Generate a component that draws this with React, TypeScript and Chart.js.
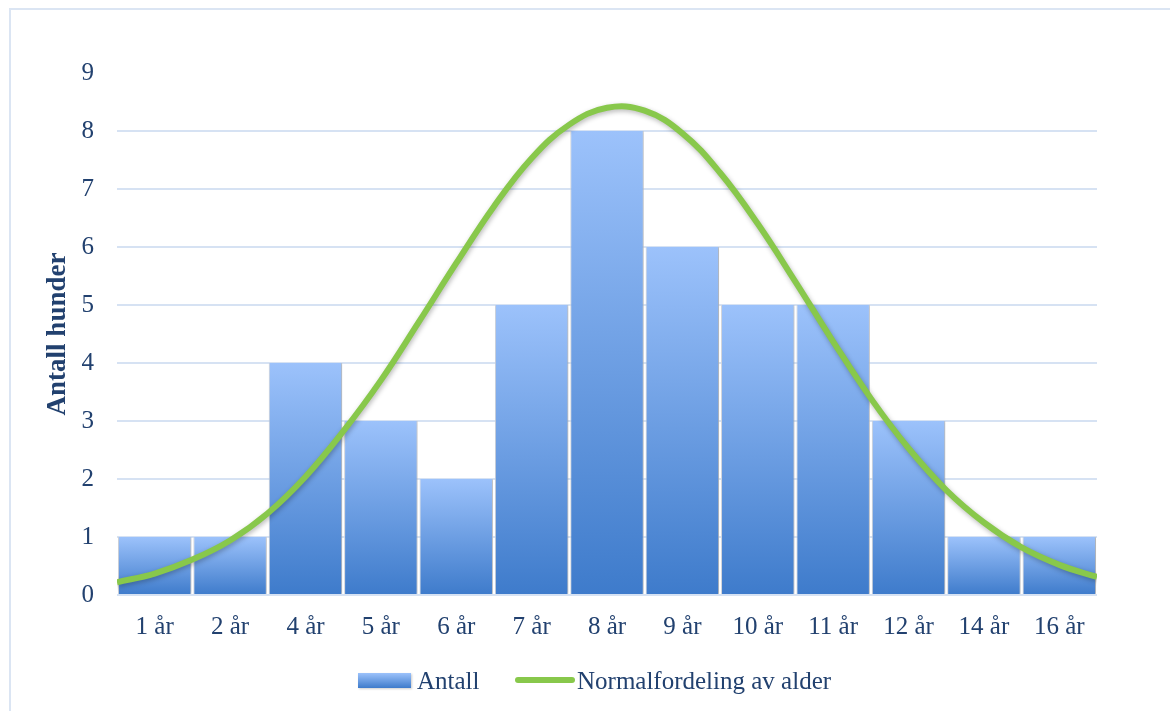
import React, { useEffect, useRef } from "react";
import { Chart, registerables } from "chart.js";

Chart.register(...registerables);

// Age groups and how many dogs fall in each
const categories = ["1 år", "2 år", "4 år", "5 år", "6 år", "7 år", "8 år", "9 år", "10 år", "11 år", "12 år", "14 år", "16 år"];
const antall = [1, 1, 4, 3, 2, 5, 8, 6, 5, 5, 3, 1, 1];

// Y axis ticks
const yTicks = [0, 1, 2, 3, 4, 5, 6, 7, 8, 9];

// Normal curve, read at every half category across the whole axis (0 = left edge, 13 = right edge)
const curvePositions = [0, 0.5, 1, 1.5, 2, 2.5, 3, 3.5, 4, 4.5, 5, 5.5, 6, 6.5, 7, 7.5, 8, 8.5, 9, 9.5, 10, 10.5, 11, 11.5, 12, 12.5, 13];
const curveValues = [0.22, 0.37, 0.61, 0.94, 1.41, 2.04, 2.82, 3.7, 4.7, 5.72, 6.7, 7.53, 8.11, 8.4, 8.35, 7.96, 7.28, 6.4, 5.4, 4.37, 3.39, 2.53, 1.81, 1.25, 0.82, 0.52, 0.31];

const TEXT = "#22416f";
const GRID = "#d6e2f3";
const GREEN = "#88c84b";
const BAR_TOP = "#9cc2fb";
const BAR_BOTTOM = "#3e7bcb";
const FONT = "'Liberation Serif', 'Times New Roman', serif";

const softShadow = {
  id: "softShadow",
  beforeDatasetDraw(chart: any, args: any) {
    const ctx = chart.ctx;
    ctx.save();
    if (args.meta.type === "line") {
      ctx.shadowColor = "rgba(0,0,0,0.28)";
      ctx.shadowBlur = 5;
      ctx.shadowOffsetX = 1;
      ctx.shadowOffsetY = 2;
    } else {
      ctx.shadowColor = "rgba(0,0,0,0.2)";
      ctx.shadowBlur = 3;
      ctx.shadowOffsetX = 1.5;
      ctx.shadowOffsetY = 0;
    }
  },
  afterDatasetDraw(chart: any) {
    chart.ctx.restore();
  },
};

export default function App() {
  const canvasRef = useRef<HTMLCanvasElement | null>(null);

  useEffect(() => {
    const canvas = canvasRef.current;
    if (!canvas) return;

    const chart = new Chart(canvas, {
      type: "bar",
      data: {
        labels: categories,
        datasets: [
          {
            type: "line",
            label: "Normalfordeling av alder",
            data: curvePositions.map((x, i) => ({ x, y: curveValues[i] })),
            xAxisID: "x2",
            yAxisID: "y",
            borderColor: GREEN,
            borderWidth: 6,
            pointRadius: 0,
            tension: 0.4,
            fill: false,
            order: 0,
          } as any,
          {
            type: "bar",
            label: "Antall",
            data: antall,
            xAxisID: "x",
            yAxisID: "y",
            backgroundColor: (c: any) => {
              const ch = c.chart;
              if (!ch.chartArea || c.type !== "data") return "#7aa6e6";
              const ys = ch.scales.y;
              const top = ys.getPixelForValue(c.raw);
              const bottom = ys.getPixelForValue(0);
              const g = ch.ctx.createLinearGradient(0, top, 0, bottom);
              g.addColorStop(0, BAR_TOP);
              g.addColorStop(1, BAR_BOTTOM);
              return g;
            },
            borderColor: "#d3d6dc",
            borderWidth: { left: 1, right: 1, top: 0, bottom: 0 },
            borderSkipped: false,
            grouped: false,
            barPercentage: 0.975,
            categoryPercentage: 1,
            order: 1,
          } as any,
        ],
      },
      options: {
        animation: false,
        responsive: true,
        maintainAspectRatio: false,
        layout: { padding: { top: 73, right: 73, left: 0, bottom: 0 } },
        plugins: {
          legend: { display: false },
          tooltip: { enabled: false },
        },
        scales: {
          x: {
            type: "category",
            offset: true,
            grid: { display: false, drawTicks: false },
            border: { display: false },
            ticks: {
              color: TEXT,
              font: { family: FONT, size: 25 },
              padding: 17,
              maxRotation: 0,
              autoSkip: false,
            },
            afterFit: (s: any) => {
              s.height = 116;
            },
          },
          x2: {
            type: "linear",
            display: false,
            offset: false,
            min: 0,
            max: 13,
            grid: { offset: false },
          },
          y: {
            min: yTicks[0],
            max: yTicks[yTicks.length - 1],
            afterBuildTicks: (s: any) => {
              s.ticks = yTicks.map((v) => ({ value: v }));
            },
            grid: {
              color: (c: any) => (c.tick && c.tick.value === 9 ? "rgba(0,0,0,0)" : GRID),
              lineWidth: 2,
              drawTicks: false,
            },
            border: { display: false },
            ticks: {
              color: TEXT,
              font: { family: FONT, size: 25 },
              padding: 23,
            },
            title: {
              display: true,
              text: "Antall hunder",
              color: TEXT,
              font: { family: FONT, size: 27, weight: "bold" },
              padding: { top: 42, bottom: 0 },
            },
            afterFit: (s: any) => {
              s.width = 117;
            },
          },
        },
      },
      plugins: [softShadow],
    });

    return () => chart.destroy();
  }, []);

  const legendText: React.CSSProperties = {
    position: "absolute",
    top: 666,
    height: 30,
    lineHeight: "30px",
    fontFamily: FONT,
    fontSize: 25,
    color: TEXT,
    whiteSpace: "nowrap",
  };

  return (
    <div style={{ position: "absolute", left: 0, top: 0, width: 1170, height: 711, background: "#ffffff", overflow: "hidden" }}>
      <div
        style={{
          position: "absolute",
          left: 9,
          top: 8,
          width: 1200,
          height: 800,
          borderTop: "2px solid #dbe5f3",
          borderLeft: "2px solid #dbe5f3",
        }}
      />
      <div style={{ position: "absolute", left: 0, top: 0, width: 1170, height: 711 }}>
        <canvas ref={canvasRef} />
      </div>
      <div
        style={{
          position: "absolute",
          left: 358,
          top: 673,
          width: 53,
          height: 15,
          background: `linear-gradient(to bottom, ${BAR_TOP}, ${BAR_BOTTOM})`,
          boxShadow: "1px 1px 2px rgba(0,0,0,0.2)",
        }}
      />
      <div style={{ ...legendText, left: 417 }}>Antall</div>
      <div
        style={{
          position: "absolute",
          left: 515,
          top: 677,
          width: 60,
          height: 6,
          borderRadius: 3,
          background: GREEN,
        }}
      />
      <div style={{ ...legendText, left: 577 }}>Normalfordeling av alder</div>
    </div>
  );
}
